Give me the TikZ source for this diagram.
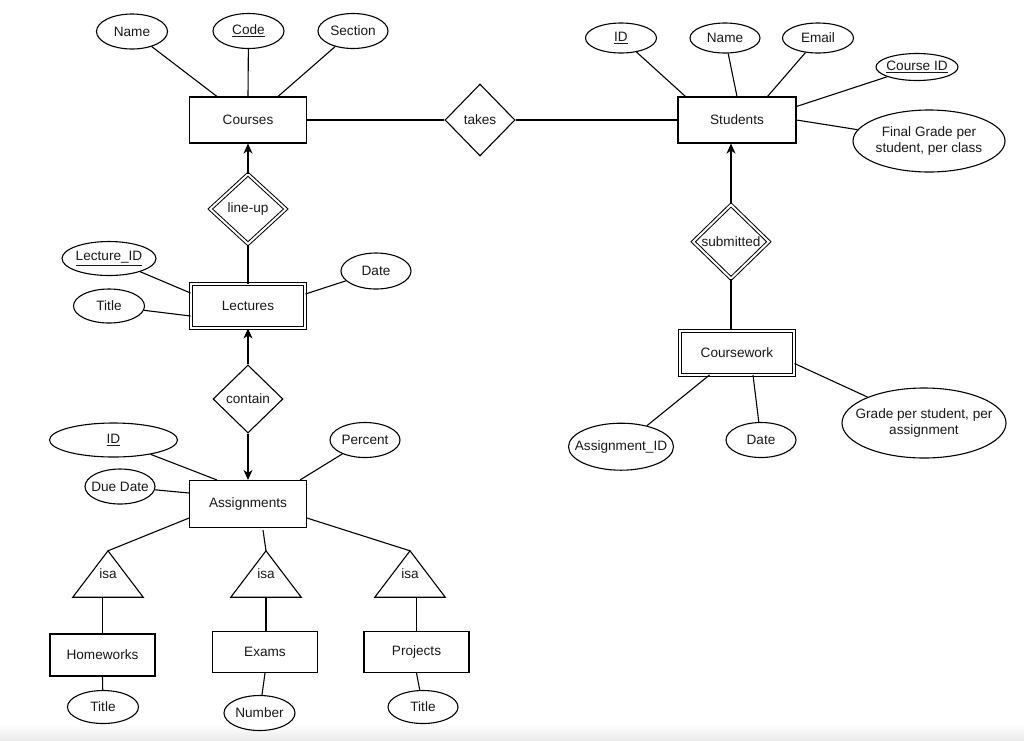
\documentclass[tikz,border=0pt]{standalone}
\usepackage{fontspec}
\setmainfont{Liberation Sans}
\usetikzlibrary{shapes.geometric,arrows.meta}
\newcommand\zt[1]{\makebox[0pt]{#1}}
\newcommand\zz[2]{\makebox[0pt]{\begin{tabular}{@{}c@{}}#1\\#2\end{tabular}}}
\begin{document}
\begin{tikzpicture}[x=1pt,y=-1pt,
  every node/.style={font=\fontsize{13.6}{16.5}\selectfont, inner sep=0pt, text=black!90},
  ent/.style={draw, line width=1.1pt, rectangle, minimum width=117pt, minimum height=46pt, fill=white},
  weak/.style={draw, double, double distance=2pt, line width=1pt, rectangle, minimum width=114pt, minimum height=44pt},
  attr/.style={draw, line width=1.1pt, ellipse, fill=white},
  rel/.style={draw, line width=1.1pt, diamond, fill=white},
  wrel/.style={draw, double, double distance=2pt, line width=1pt, diamond},
  isabox/.style={rectangle, minimum width=70pt, minimum height=46pt},
  ln/.style={line width=1.1pt},
  arr/.style={line width=1.1pt, -{Stealth[length=10pt,width=9pt,inset=3pt]}},
  sz/.style 2 args={minimum width=#1pt, minimum height=#2pt},
]
\useasboundingbox (0,0) rectangle (1024,740);
\shade[top color=white,bottom color=black!8] (0,724) rectangle (1024,740);

% Courses
\node[ent] (courses) at (248,120) {Courses};
\node[attr,sz={71}{35}] (cname) at (132,31.5) {\zt{Name}};
\node[attr,sz={71}{35}] (ccode) at (248.5,31) {\zt{\underline{Code}}};
\node[attr,sz={70}{35}] (csect) at (353,31) {\zt{Section}};
\draw[ln] (cname) -- ([xshift=28pt]courses.north west);
\draw[ln] (ccode) -- (courses.north);
\draw[ln] (csect) -- ([xshift=-29pt]courses.north east);

% takes
\node[rel,sz={70}{72}] (takes) at (480,120) {\zt{takes}};

% Students
\node[ent,minimum width=118pt] (students) at (737,120) {Students};
\node[attr,sz={71}{30}] (sid) at (621,38) {\zt{\underline{ID}}};
\node[attr,sz={70}{30}] (sname) at (725,38) {\zt{Name}};
\node[attr,sz={71}{30}] (semail) at (818,38) {\zt{Email}};
\node[attr,sz={82}{27}] (scid) at (917,67) {\zt{\underline{Course ID}}};
\node[attr,sz={152}{62}] (sfinal) at (929,141) {\zz{Final Grade per}{student, per class}};
\draw[ln] (courses.east) -- (takes.west);
\draw[ln] (takes.east) -- (students.west);
\draw[ln] (sid) -- ([xshift=8pt]students.north west);
\draw[ln] (sname) -- (students.north);
\draw[ln] (semail) -- ([xshift=-29pt]students.north east);
\draw[ln] (scid) -- ([yshift=-10pt]students.north east);
\draw[ln] (sfinal) -- (students.east);

% line-up / Lectures
\node[wrel,sz={76}{70}] (lineup) at (248,209) {\zt{line-up}};
\node[weak] (lectures) at (248,306) {Lectures};
\node[attr,sz={94}{34}] (lecid) at (109,258.5) {\zt{\underline{Lecture\_ID}}};
\node[attr,sz={71}{34}] (ltitle) at (109,306) {\zt{Title}};
\node[attr,sz={70}{36}] (ldate) at (376,271) {\zt{Date}};
\draw[arr] (lineup.north) -- (courses.south);
\draw[ln] (lineup.south) -- (lectures.north);
\draw[ln] (lecid) -- ([yshift=13pt]lectures.west);
\draw[ln] (ltitle) -- ([yshift=-10pt]lectures.west);
\draw[ln] (ldate) -- ([yshift=12pt]lectures.east);

% contain / Assignments
\node[rel,sz={70}{68}] (contain) at (248,399) {\zt{contain}};
\node[ent,minimum height=47pt] (assign) at (248,504) {Assignments};
\node[attr,sz={128}{34}] (aid) at (113.5,440) {\zt{\underline{ID}}};
\node[attr,sz={70}{35}] (apct) at (365,440) {\zt{Percent}};
\node[attr,sz={70}{35}] (adue) at (120,486.5) {\zt{Due Date}};
\draw[arr] (contain.north) -- (lectures.south);
\draw[arr] (contain.south) -- (assign.north);
\draw[ln] (aid) -- ([xshift=28pt]assign.north west);
\draw[ln] (apct) -- ([xshift=-7pt]assign.north east);
\draw[ln] (adue) -- ([yshift=11pt]assign.west);

% isa
\node[isabox] (isa1) at (108,574) {isa};
\node[isabox] (isa2) at (266,574) {isa};
\node[isabox] (isa3) at (410,574) {isa};
\foreach \t in {isa1,isa2,isa3}
  \draw[ln, line join=miter] (\t.north) -- (\t.south east) -- (\t.south west) -- cycle;
\draw[ln] ([yshift=10pt]assign.south west) -- (isa1.north);
\draw[ln] ([xshift=15pt,yshift=-2pt]assign.south) -- (isa2.north);
\draw[ln] ([yshift=10pt]assign.south east) -- (isa3.north);

\node[ent,sz={105}{42}] (hw) at (102.5,655) {Homeworks};
\node[ent,sz={105}{41}] (exams) at (265,652) {Exams};
\node[ent,sz={105}{41}] (proj) at (416.5,652) {Projects};
\draw[ln] (hw.north |- isa1.south) -- (hw.north);
\draw[ln] (isa2.south) -- (isa2.south |- exams.north);
\draw[ln] (proj.north |- isa3.south) -- (proj.north);

\node[attr,sz={71}{33}] (t1) at (103,707) {\zt{Title}};
\node[attr,sz={71}{35}] (num) at (259.5,713) {\zt{Number}};
\node[attr,sz={70}{33}] (t3) at (423,707) {\zt{Title}};
\draw[ln] (hw.south) -- (t1);
\draw[ln] (exams.south) -- (num);
\draw[ln] (proj.south) -- (t3);

% submitted / Coursework
\node[wrel,sz={76}{74}] (subm) at (731,241.7) {\zt{submitted}};
\node[weak] (cw) at (737,352.5) {Coursework};
\node[attr,sz={105}{47}] (casg) at (621,446.7) {\zt{Assignment\_ID}};
\node[attr,sz={70}{35}] (cdate) at (761,440) {\zt{Date}};
\node[attr,sz={164}{70}] (cgrade) at (924,423) {\zz{Grade per student, per}{assignment}};
\draw[arr] (subm.north) -- (subm.north |- students.south);
\draw[ln] (subm.south) -- (subm.south |- cw.north);
\draw[ln] (casg) -- ([xshift=30pt]cw.south west);
\draw[ln] (cdate) -- ([xshift=16pt]cw.south);
\draw[ln] (cgrade) -- ([yshift=-11pt]cw.east);
\end{tikzpicture}
\end{document}
